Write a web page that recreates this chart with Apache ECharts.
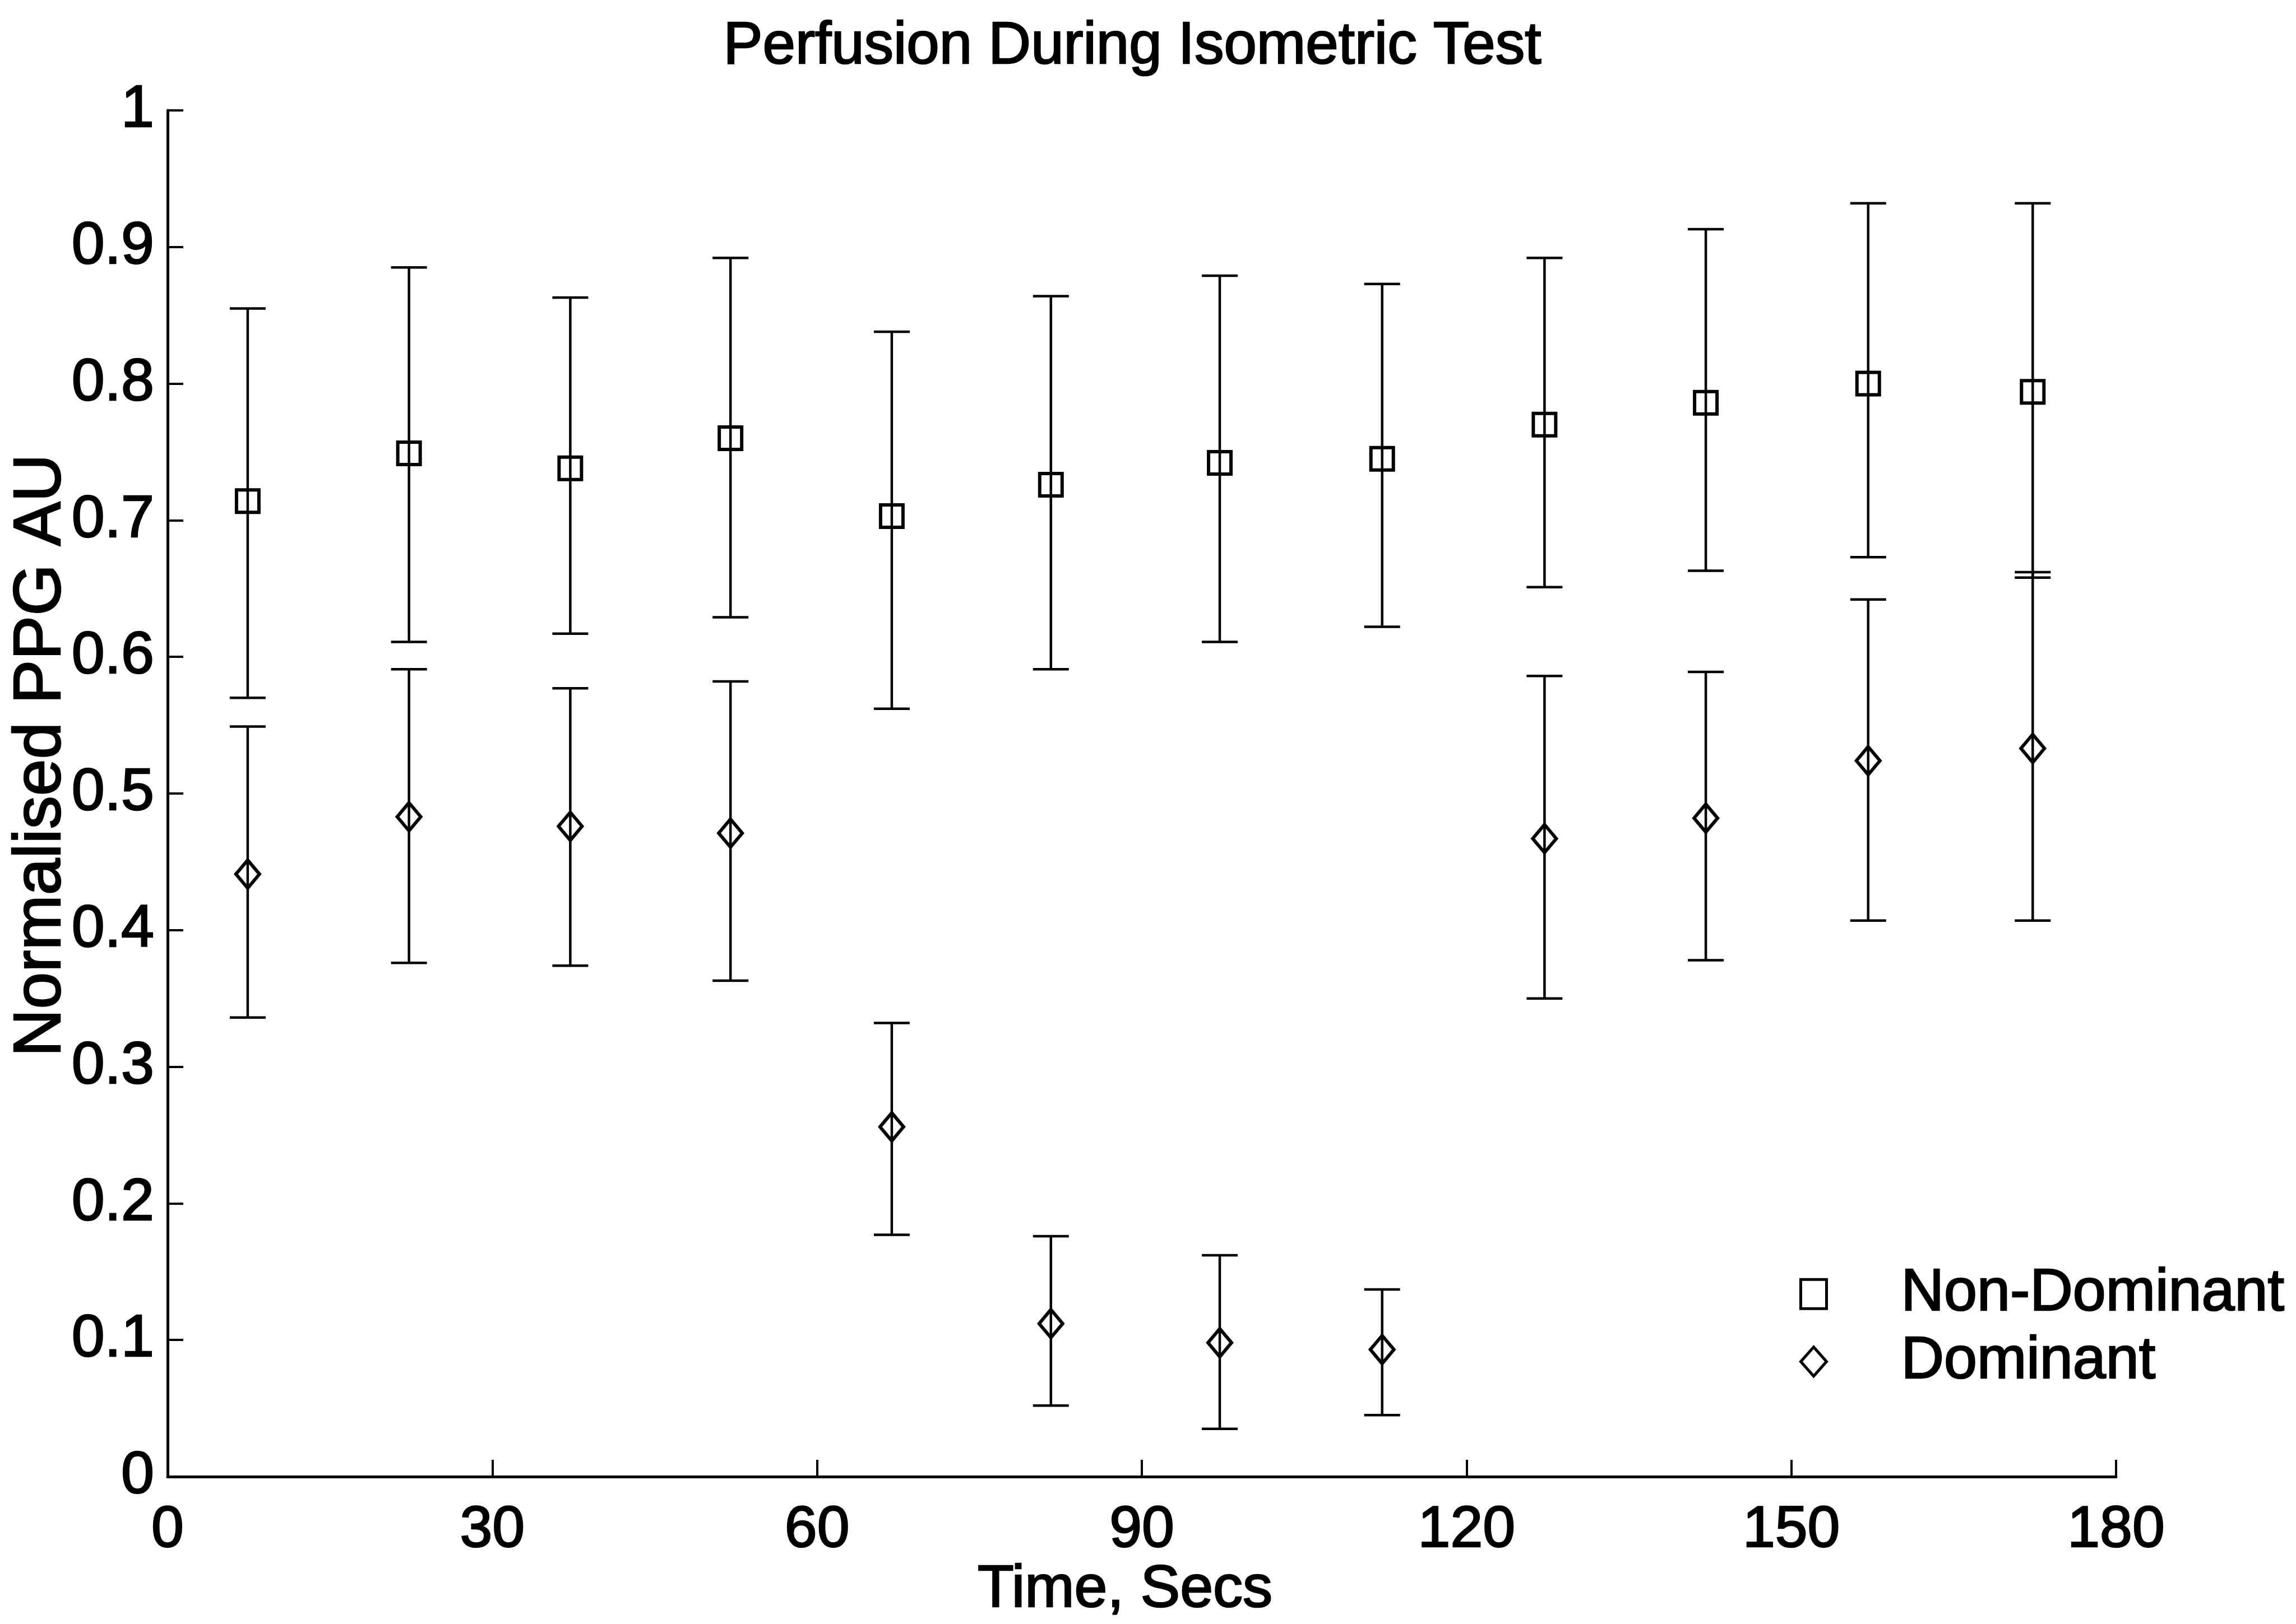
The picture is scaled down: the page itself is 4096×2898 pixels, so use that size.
<!DOCTYPE html>
<html>
<head>
<meta charset="utf-8">
<script src="https://cdn.jsdelivr.net/npm/echarts@6/dist/echarts.min.js"></script>
<style>
html,body{margin:0;padding:0;background:#fff;}
#chart{width:4096px;height:2898px;}
</style>
</head>
<body>
<div id="chart"></div>
<script>
// ---- data ----
const times = [7.4, 22.3, 37.2, 52.0, 66.9, 81.6, 97.2, 112.2, 127.2, 142.1, 157.1, 172.3];

const nonDomMean  = [0.714, 0.749, 0.738, 0.760, 0.703, 0.726, 0.742, 0.745, 0.770, 0.786, 0.800, 0.794];
const nonDomLower = [0.570, 0.611, 0.617, 0.629, 0.562, 0.591, 0.611, 0.622, 0.651, 0.663, 0.673, 0.658];
const nonDomUpper = [0.855, 0.885, 0.863, 0.892, 0.838, 0.864, 0.879, 0.873, 0.892, 0.913, 0.932, 0.932];

const domMean  = [0.441, 0.483, 0.476, 0.471, 0.256, 0.112, 0.098, 0.093, 0.467, 0.482, 0.524, 0.533];
const domLower = [0.336, 0.376, 0.374, 0.363, 0.177, 0.052, 0.035, 0.045, 0.350, 0.378, 0.407, 0.407];
const domUpper = [0.549, 0.591, 0.577, 0.582, 0.332, 0.176, 0.162, 0.137, 0.586, 0.589, 0.642, 0.662];

const xTicks = ['0', '30', '60', '90', '120', '150', '180'];
const yTicks = ['0', '0.1', '0.2', '0.3', '0.4', '0.5', '0.6', '0.7', '0.8', '0.9', '1'];

const titleText = 'Perfusion During Isometric Test';
const xName = 'Time, Secs';
const yName = 'Normalised PPG AU';
const seriesNames = ['Non-Dominant', 'Dominant'];

// ---- build ----
const FONT = '"Liberation Sans", Arial, Helvetica, sans-serif';
const heavy = { textBorderColor: '#000', textBorderWidth: 2.5 };

function pts(means) { return times.map((t, i) => [t, means[i]]); }
function bars(lo, hi) { return times.map((t, i) => [t, lo[i], hi[i]]); }

function errRender(params, api) {
  const x = api.value(0);
  const pLo = api.coord([x, api.value(1)]);
  const pHi = api.coord([x, api.value(2)]);
  const hw = 32;
  const st = { stroke: '#000', lineWidth: 4.5 };
  return {
    type: 'group',
    children: [
      { type: 'line', shape: { x1: pLo[0], y1: pLo[1], x2: pHi[0], y2: pHi[1] }, style: st },
      { type: 'line', shape: { x1: pLo[0] - hw, y1: pLo[1], x2: pLo[0] + hw, y2: pLo[1] }, style: st },
      { type: 'line', shape: { x1: pHi[0] - hw, y1: pHi[1], x2: pHi[0] + hw, y2: pHi[1] }, style: st }
    ]
  };
}

const chart = echarts.init(document.getElementById('chart'), null, { renderer: 'canvas' });

chart.setOption({
  animation: false,
  backgroundColor: '#fff',
  title: {
    text: titleText,
    left: 2015,
    top: 27,
    textAlign: 'center',
    textStyle: Object.assign({ fontFamily: FONT, fontSize: 105, fontWeight: 'normal', color: '#000' }, heavy)
  },
  grid: { left: 299, right: 321, top: 197, bottom: 263, containLabel: false, outerBoundsMode: 'none' },
  legend: {
    orient: 'vertical',
    left: 3210,
    top: 2255,
    padding: 0,
    itemGap: 12,
    itemWidth: 46,
    itemHeight: 52,
    data: seriesNames.map(n => ({ name: n, itemStyle: { borderWidth: 5, borderColor: '#000' } })),
    textStyle: Object.assign({ fontFamily: FONT, fontSize: 106, color: '#000', padding: [0, 0, 0, 128] }, heavy)
  },
  xAxis: {
    type: 'value',
    min: 0, max: 180, interval: 30,
    name: xName,
    nameLocation: 'middle',
    nameGap: 150,
    nameMoveOverlap: false,
    nameTextStyle: Object.assign({ fontFamily: FONT, fontSize: 106, color: '#000', padding: [0, 60, 0, 0] }, heavy),
    axisLine: { show: true, onZero: false, lineStyle: { color: '#000', width: 5 } },
    axisTick: { show: true, inside: true, length: 30, lineStyle: { color: '#000', width: 4 } },
    axisLabel: Object.assign({
      fontFamily: FONT, fontSize: 104, color: '#000', margin: 44,
      formatter: v => xTicks[Math.round(v / 30)]
    }, heavy),
    splitLine: { show: false }
  },
  yAxis: {
    type: 'value',
    min: 0, max: 1, interval: 0.1,
    name: yName,
    nameLocation: 'middle',
    nameRotate: 90,
    nameGap: 166,
    nameMoveOverlap: false,
    nameTextStyle: Object.assign({ fontFamily: FONT, fontSize: 118, color: '#000', padding: [0, 0, 0, 136] }, heavy),
    axisLine: { show: true, lineStyle: { color: '#000', width: 5 } },
    axisTick: { show: true, inside: true, length: 28, lineStyle: { color: '#000', width: 4 } },
    axisLabel: Object.assign({
      fontFamily: FONT, fontSize: 106, color: '#000', margin: 24,
      formatter: v => yTicks[Math.round(v * 10)]
    }, heavy),
    splitLine: { show: false }
  },
  series: [
    {
      name: 'ND error', type: 'custom', renderItem: errRender,
      data: bars(nonDomLower, nonDomUpper), encode: { x: 0, y: [1, 2] }, z: 2, silent: true
    },
    {
      name: 'D error', type: 'custom', renderItem: errRender,
      data: bars(domLower, domUpper), encode: { x: 0, y: [1, 2] }, z: 2, silent: true
    },
    {
      name: seriesNames[0], type: 'scatter', symbol: 'rect', symbolSize: 40,
      data: pts(nonDomMean), z: 3,
      itemStyle: { color: 'rgba(255,255,255,0)', borderColor: '#000', borderWidth: 6, opacity: 1 }
    },
    {
      name: seriesNames[1], type: 'scatter', symbol: 'diamond', symbolSize: [42, 50],
      data: pts(domMean), z: 3,
      itemStyle: { color: 'rgba(255,255,255,0)', borderColor: '#000', borderWidth: 6, opacity: 1 }
    }
  ]
});
</script>
</body>
</html>
